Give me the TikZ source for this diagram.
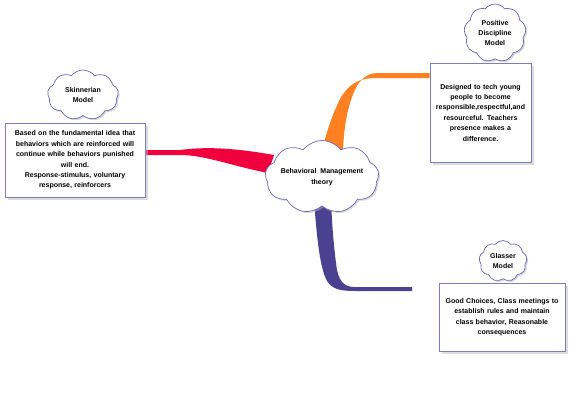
\documentclass[tikz,border=0pt]{standalone}
\usepackage{fontspec}
\setmainfont{Liberation Sans}
\usetikzlibrary{shapes.symbols,shadows,backgrounds,calc}
\definecolor{ribred}{RGB}{240,0,60}
\definecolor{riborange}{RGB}{255,128,32}
\definecolor{ribpurple}{RGB}{75,65,145}
\definecolor{boxline}{RGB}{125,125,190}
\definecolor{cloudline}{RGB}{105,105,185}
\tikzset{
  txt/.style={font=\bfseries\fontsize{7}{10.4}\selectfont, align=center},
  cloudnode/.style={txt, cloud, cloud puffs=9, cloud puff arc=105, cloud ignores aspect,
    draw=cloudline, line width=0.7pt, fill=white, inner sep=0pt,
    drop shadow={shadow xshift=1.5pt, shadow yshift=-1.5pt, fill=gray!60}},
  boxnode/.style={txt, rectangle, draw=boxline, line width=0.8pt, fill=white, inner sep=2pt,
    drop shadow={shadow xshift=2.5pt, shadow yshift=-2.5pt, fill=gray!55}},
}
\begin{document}
\begin{tikzpicture}[x=1pt,y=-1pt]
\useasboundingbox (0,0) rectangle (571,407);
% boxes and clouds
\node[boxnode, minimum width=140pt, minimum height=74pt, text width=134pt] (skbox) at (75,160)
  {Based on the fundamental idea that\\behaviors which are reinforced will\\continue while behaviors punished\\will end.\\Response-stimulus, voluntary\\response, reinforcers};
\node[cloudnode, minimum width=71pt, minimum height=50pt] (skcloud) at (83,95) {Skinnerian\\Model};
\node[boxnode, minimum width=101pt, minimum height=99pt, text width=97pt] (pdbox) at (480.5,112.5)
  {Designed to tech young\\people to become\\responsible,respectful,and\\resourceful. Teachers\\presence makes a\\difference.};
\node[cloudnode, minimum width=62pt, minimum height=58pt] (pdcloud) at (495,33) {Positive\\Discipline\\Model};
\node[boxnode, minimum width=126pt, minimum height=68pt, text width=122pt] (glbox) at (502,317)
  {Good Choices, Class meetings to\\establish rules and maintain\\class behavior, Reasonable\\consequences};
\node[cloudnode, minimum width=48pt, minimum height=41pt] (glcloud) at (503,261) {Glasser\\Model};
\node[cloudnode, minimum width=113pt, minimum height=73pt] (center) at (322,177) {Behavioral\ \ Management\\theory};
% ribbons
\begin{pgfonlayer}{background}
\fill[ribred] (skbox.east |- 0,150) -- (180,150) .. controls (210,146) and (240,149) .. (274,155)
  -- (268,173) .. controls (232,166) and (205,155) .. (180,155) -- (skbox.east |- 0,155) -- cycle;
\fill[riborange] (pdbox.west |- 0,73) -- (378,73) .. controls (363,73) and (356,84) .. (350,103)
  .. controls (346,117) and (344,130) .. (343,150) -- (322,150) .. controls (328,127) and (334,111) .. (340,99)
  .. controls (350,82) and (360,78) .. (378,78) -- (pdbox.west |- 0,78) -- cycle;
\fill[ribpurple] (314,200) .. controls (317,240) and (320,268) .. (327,281)
  .. controls (332,289) and (340,291) .. (355,291) -- (412,291) -- (412,287) -- (355,287)
  .. controls (345,287) and (340,283) .. (337,270) .. controls (334,250) and (332,225) .. (331,200) -- cycle;
\end{pgfonlayer}
\end{tikzpicture}
\end{document}
